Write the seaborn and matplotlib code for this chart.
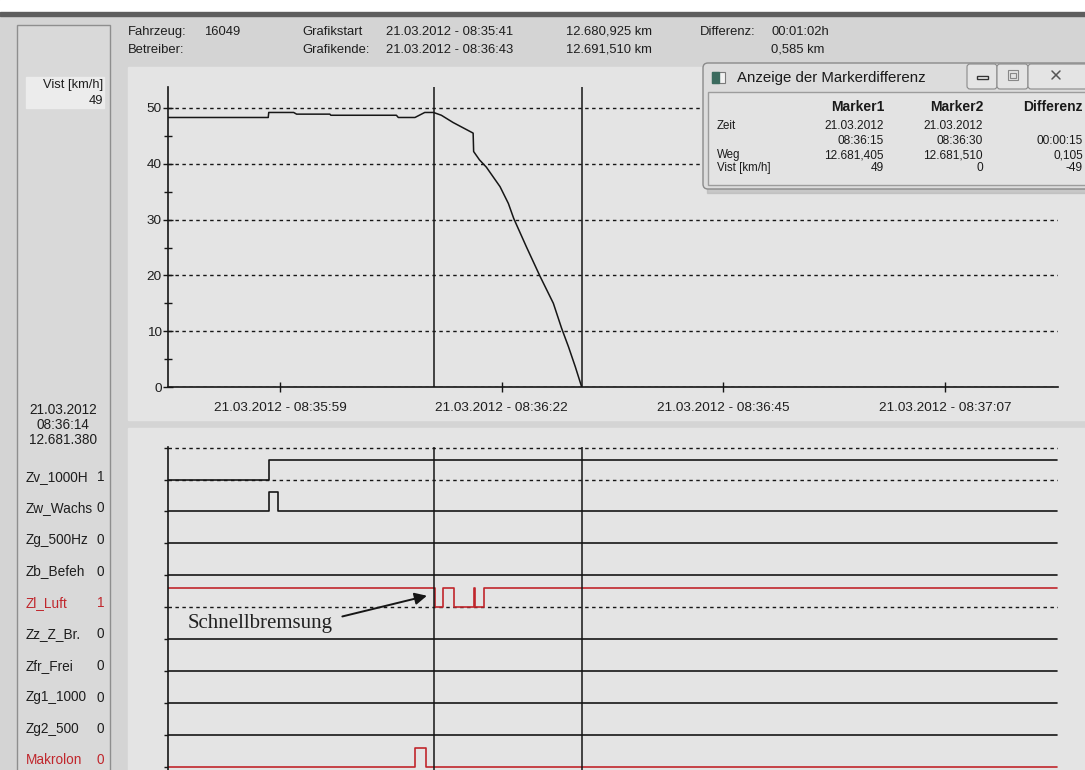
import matplotlib
matplotlib.use("Agg")
import matplotlib.pyplot as plt
import numpy as np
import pandas as pd
import seaborn as sns
from matplotlib.patches import Rectangle, FancyBboxPatch

# --- data (time in seconds after 08:35:00) ---
speed_t = [47.55, 57.8, 57.85, 60.4, 60.7, 64.1, 64.2, 70.9, 71.1, 72.8, 73.8, 74.7,
           75.5, 76.7, 78.75, 78.8, 79.4, 80.1, 81.5, 82.35, 82.9, 84.2, 85.6,
           86.95, 87.8, 88.5, 89.2, 89.85]
speed_v = [48.3, 48.3, 49.2, 49.2, 48.9, 48.9, 48.7, 48.7, 48.3, 48.3, 49.2, 49.2,
           48.7, 47.4, 45.5, 42.2, 40.7, 39.4, 35.9, 32.9, 30.2, 25.1, 19.8,
           15.0, 10.5, 7.2, 3.6, 0.0]

xtick_pos = [59, 81.67, 104.33, 127]
xtick_labels = ["21.03.2012 - 08:35:59", "21.03.2012 - 08:36:22",
                "21.03.2012 - 08:36:45", "21.03.2012 - 08:37:07"]
marker_times = [74.75, 89.9]

channel_names = ["Zv_1000H", "Zw_Wachs", "Zg_500Hz", "Zb_Befeh", "Zl_Luft",
                 "Zz_Z_Br.", "Zfr_Frei", "Zg1_1000", "Zg2_500", "Makrolon"]
channel_values = ["1", "0", "0", "0", "1", "0", "0", "0", "0", "0"]
channel_red = [False, False, False, False, True, False, False, False, False, True]

# signal change points (time, state)
zv_t, zv_s = [47.55, 57.9, 138.4], [0, 1, 1]
zw_t, zw_s = [47.55, 57.9, 58.8, 138.4], [0, 1, 0, 0]
zl_t, zl_s = [47.55, 74.85, 75.7, 76.8, 78.85, 78.95, 79.85, 138.4], [1, 0, 1, 0, 1, 0, 1, 1]
mak_t, mak_s = [47.55, 72.8, 73.9, 138.4], [0, 1, 0, 0]
flat_t, flat_s = [47.55, 138.4], [0, 0]
signal_data = [(zv_t, zv_s), (zw_t, zw_s), (flat_t, flat_s), (flat_t, flat_s), (zl_t, zl_s),
               (flat_t, flat_s), (flat_t, flat_s), (flat_t, flat_s), (flat_t, flat_s),
               (mak_t, mak_s)]

sns.set_style("ticks")
plt.rcParams["font.family"] = ["Liberation Sans", "DejaVu Sans"]

W, H = 1085, 770
RED = "#c0262c"
INK = "#161616"
TXT = "#1e1e1e"
fig = plt.figure(figsize=(10.85, 7.7), dpi=100, facecolor="#d4d4d4")


def fax(left, top, right, bottom):
    return fig.add_axes([left / W, 1 - bottom / H, (right - left) / W, (bottom - top) / H])


# --- window chrome ---
bg = fax(0, 0, W, H)
bg.set_xlim(0, W)
bg.set_ylim(H, 0)
bg.axis("off")
bg.set_zorder(0)
bg.add_patch(Rectangle((0, 0), W, 12, color="white"))
bg.add_patch(Rectangle((0, 12), W, 4, color="#5e5e5e"))
bg.add_patch(Rectangle((17, 25), 93, 760, facecolor="#d9d9d9", edgecolor="#8e8e8e", lw=1))
bg.add_patch(Rectangle((26, 77), 78, 31, color="#ececec"))
bg.add_patch(Rectangle((128, 67), W - 128, 353, color="#e4e4e4"))
bg.add_patch(Rectangle((128, 428), W - 128, H - 428, color="#e4e4e4"))

hdr = dict(fontsize=9.4, va="center", color=TXT)
bg.text(128, 32, "Fahrzeug:", **hdr)
bg.text(204, 32, "16049", **hdr)
bg.text(128, 50, "Betreiber:", **hdr)
bg.text(302, 32, "Grafikstart", **hdr)
bg.text(302, 50, "Grafikende:", **hdr)
bg.text(386, 32, "21.03.2012 - 08:35:41", **hdr)
bg.text(386, 50, "21.03.2012 - 08:36:43", **hdr)
bg.text(566, 32, "12.680,925 km", **hdr)
bg.text(566, 50, "12.691,510 km", **hdr)
bg.text(700, 32, "Differenz:", **hdr)
bg.text(771, 32, "00:01:02h", **hdr)
bg.text(771, 50, "0,585 km", **hdr)

side = dict(fontsize=9.8, va="center", color=TXT)
bg.text(103, 85, "Vist [km/h]", ha="right", fontsize=9.3, va="center", color=TXT)
bg.text(103, 101, "49", ha="right", fontsize=9.3, va="center", color=TXT)
bg.text(63, 410, "21.03.2012", ha="center", **side)
bg.text(63, 425, "08:36:14", ha="center", **side)
bg.text(63, 440, "12.681.380", ha="center", **side)
for k, (name, val, red) in enumerate(zip(channel_names, channel_values, channel_red)):
    y = 477 + k * 31.5
    c = RED if red else TXT
    bg.text(26, y, name, ha="left", va="center", fontsize=9.8, color=c)
    bg.text(104, y, val, ha="right", va="center", fontsize=9.8, color=c)

# --- speed chart ---
top = fax(168, 87, 1058, 387)
top.set_zorder(1)
top.patch.set_alpha(0)
speed = pd.DataFrame({"t": speed_t, "v": speed_v})
sns.lineplot(data=speed, x="t", y="v", ax=top, color=INK, lw=1.1,
             estimator=None, sort=False)
top.set_xlim(47.55, 138.55)
top.set_ylim(0, 300 / 5.58)
top.set_xlabel("")
top.set_ylabel("")
top.set_yticks([0, 10, 20, 30, 40, 50])
top.set_yticks([5, 15, 25, 35, 45], minor=True)
top.set_xticks(xtick_pos)
top.set_xticklabels(xtick_labels)
top.tick_params(axis="both", which="major", direction="inout", length=7, width=1,
                color=INK, labelsize=9.7, labelcolor=TXT)
top.tick_params(axis="y", which="minor", direction="inout", length=6, width=1, color=INK)
top.tick_params(axis="x", pad=7)
top.tick_params(axis="y", pad=1)
top.grid(axis="y", which="major", ls=(0, (2.5, 2.5)), color=INK, lw=1.0)
sns.despine(ax=top)
for s in ["left", "bottom"]:
    top.spines[s].set_color(INK)
    top.spines[s].set_linewidth(1.2)
for m in marker_times:
    top.axvline(m, color=INK, lw=1.1)

# --- binary signals ---
bot = fax(168, 447, 1058, 770)
bot.set_zorder(1)
bot.patch.set_alpha(0)
bot.set_xlim(47.55, 138.55)
bot.set_ylim(10.10, -0.02)
bot.axhline(0, ls=(0, (2.5, 2.5)), color=INK, lw=1.0)
for k, ((t, s), red) in enumerate(zip(signal_data, channel_red), start=1):
    c = RED if red else INK
    if max(s) > 0 and s[-1] == 1:
        bot.axhline(k, ls=(0, (2.5, 2.5)), color=INK, lw=1.0)
    sig = pd.DataFrame({"t": t, "y": [k - 0.6 * v for v in s]})
    sns.lineplot(data=sig, x="t", y="y", ax=bot, color=c, lw=1.2,
                 drawstyle="steps-post", estimator=None, sort=False)
bot.set_xlabel("")
bot.set_ylabel("")
bot.set_xticks([])
bot.set_yticks(range(0, 11))
bot.set_yticklabels([])
bot.tick_params(axis="y", direction="out", length=3, width=1, color=INK)
sns.despine(ax=bot, bottom=True)
bot.spines["left"].set_color(INK)
bot.spines["left"].set_linewidth(1.2)
for m in marker_times:
    bot.axvline(m, color=INK, lw=1.1)
bot.annotate("", xy=(74.3, 4.62), xytext=(65.1, 5.31),
             arrowprops=dict(arrowstyle="-|>", color=INK, lw=1.4, mutation_scale=18))
bot.text(49.6, 5.5, "Schnellbremsung", family="Liberation Serif", fontsize=15,
         va="center", ha="left", color="#222")

# --- marker difference window ---
ov = fax(0, 0, W, H)
ov.set_xlim(0, W)
ov.set_ylim(H, 0)
ov.axis("off")
ov.set_zorder(5)
ov.patch.set_alpha(0)
ov.add_patch(Rectangle((707, 68), 390, 125, color="#b4b4b4", alpha=0.6))
ov.add_patch(FancyBboxPatch((703, 63), 395, 126, boxstyle="round,pad=0,rounding_size=5",
                            facecolor="#dcdcdc", edgecolor="#8a8a8a", lw=1))
ov.add_patch(Rectangle((708, 92), 385, 93, facecolor="#e3e3e3", edgecolor="#9c9c9c", lw=1))
ov.add_patch(Rectangle((712, 72), 13, 11, facecolor="#f2f2f2", edgecolor="#7a7a7a", lw=0.8))
ov.add_patch(Rectangle((712, 72), 7, 11, color="#3b6b5e"))
ov.text(737, 78, "Anzeige der Markerdifferenz", fontsize=10.8, va="center", color="#1a1a1a")
for x0, x1 in [(967, 997), (997, 1028), (1028, 1095)]:
    ov.add_patch(FancyBboxPatch((x0, 64), x1 - x0, 25, boxstyle="round,pad=0,rounding_size=3",
                                facecolor="#e4e4e4", edgecolor="#8a8a8a", lw=0.8))
ov.add_patch(Rectangle((977, 76), 11, 3, facecolor="#f4f4f4", edgecolor="#333", lw=1))
ov.add_patch(Rectangle((1008, 70), 10, 10, facecolor="none", edgecolor="#888", lw=0.8))
ov.add_patch(Rectangle((1010, 73), 6, 5, facecolor="none", edgecolor="#888", lw=0.8))
ov.plot([1052, 1060], [71, 79], color="#555", lw=1.1)
ov.plot([1052, 1060], [79, 71], color="#555", lw=1.1)

lab = dict(fontsize=8.3, va="center", color="#1a1a1a")
num = dict(fontsize=8.6, va="center", color="#1a1a1a", ha="right")
head = dict(fontsize=10, fontweight="bold", va="center", color="#1a1a1a", ha="right")
ov.text(885, 107, "Marker1", **head)
ov.text(983, 107, "Marker2", **head)
ov.text(1083, 107, "Differenz", **head)
ov.text(717, 126, "Zeit", ha="left", **lab)
ov.text(717, 155, "Weg", ha="left", **lab)
ov.text(717, 168, "Vist [km/h]", ha="left", **lab)
ov.text(884, 126, "21.03.2012", **num)
ov.text(884, 141, "08:36:15", **num)
ov.text(983, 126, "21.03.2012", **num)
ov.text(983, 141, "08:36:30", **num)
ov.text(1083, 141, "00:00:15", **num)
ov.text(884, 155, "12.681,405", **num)
ov.text(983, 155, "12.681,510", **num)
ov.text(1083, 155, "0,105", **num)
ov.text(884, 168, "49", **num)
ov.text(983, 168, "0", **num)
ov.text(1083, 168, "-49", **num)

fig.savefig("out.png", dpi=100, facecolor=fig.get_facecolor())
